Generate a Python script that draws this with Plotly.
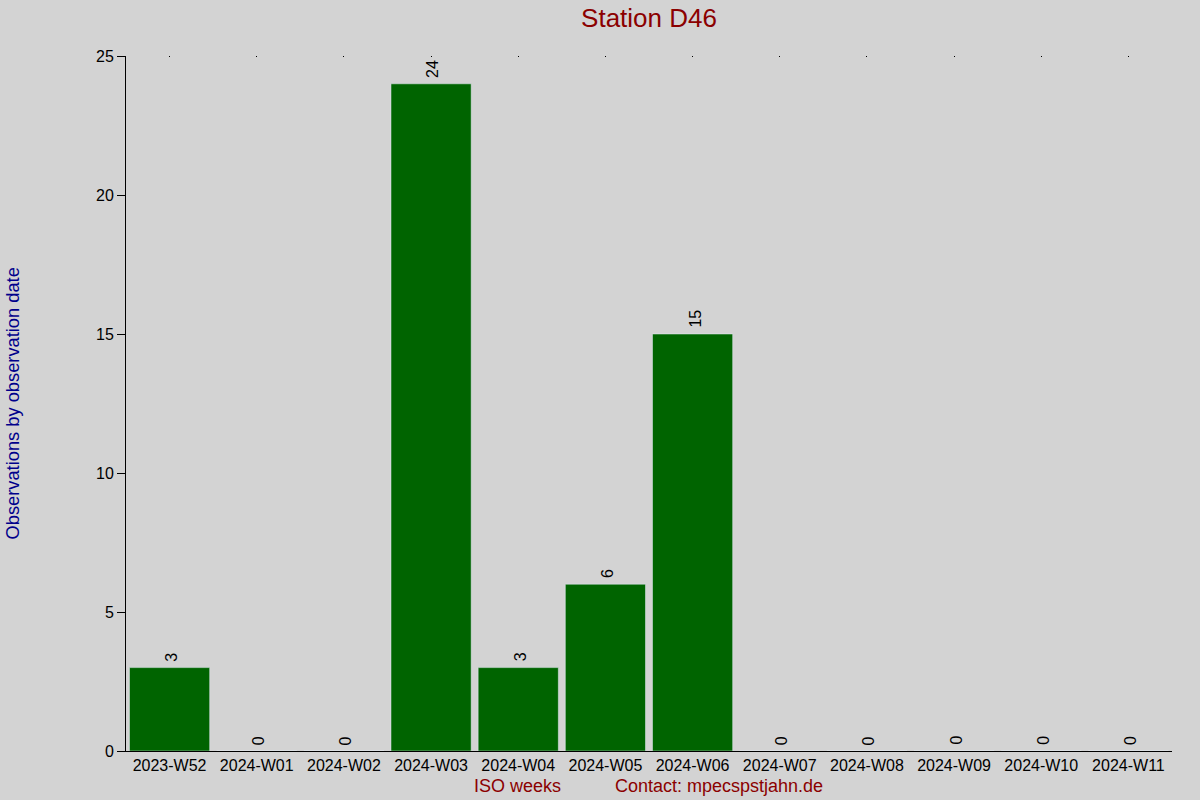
import plotly.graph_objects as go

weeks = ["2023-W52", "2024-W01", "2024-W02", "2024-W03", "2024-W04", "2024-W05",
         "2024-W06", "2024-W07", "2024-W08", "2024-W09", "2024-W10", "2024-W11"]
counts = [3, 0, 0, 24, 3, 6, 15, 0, 0, 0, 0, 0]
y_ticks = [0, 5, 10, 15, 20, 25]

FONT = "Liberation Sans, Arial, sans-serif"
BG = "#D3D3D3"
BAR = "#006400"
DARKRED = "#8B0000"
NAVY = "#00008B"

fig = go.Figure()
fig.add_trace(go.Bar(
    x=weeks, y=counts,
    marker=dict(color=BAR, line=dict(width=0)),
    width=0.92,
    showlegend=False,
    hoverinfo="x+y",
))
# invisible trace to carry the small top ticks
fig.add_trace(go.Bar(
    x=weeks, y=counts, xaxis="x2",
    marker=dict(color="rgba(0,0,0,0)"),
    showlegend=False, hoverinfo="skip",
))

bar_labels = [
    dict(x=w, y=c, xref="x", yref="y", text=str(c), textangle=-90,
         showarrow=False, xanchor="center", yanchor="bottom", yshift=4, xshift=2,
         font=dict(family=FONT, size=16, color="black"))
    for w, c in zip(weeks, counts)
]

fig.update_layout(
    width=1200, height=800,
    paper_bgcolor=BG, plot_bgcolor=BG,
    margin=dict(l=126, r=28, t=56, b=49),
    font=dict(family=FONT, size=16, color="black"),
    title=dict(text="Station D46", x=0.5, xref="paper", y=1 - 18 / 800,
               yref="container", yanchor="middle", xanchor="center",
               font=dict(family=FONT, size=26, color=DARKRED)),
    bargap=0.08,
    xaxis=dict(
        type="category", categoryorder="array", categoryarray=weeks,
        showline=True, linecolor="black", linewidth=1,
        ticks="", showgrid=False, zeroline=False,
        tickfont=dict(family=FONT, size=16, color="black"),
        fixedrange=True,
    ),
    xaxis2=dict(
        type="category", categoryorder="array", categoryarray=weeks,
        overlaying="x", side="top", matches="x",
        showline=False, showgrid=False, zeroline=False,
        showticklabels=False, ticks="inside", ticklen=1, tickwidth=1,
        tickcolor="black",
    ),
    yaxis=dict(
        range=[0, 25], tickvals=y_ticks,
        showline=True, linecolor="black", linewidth=1,
        ticks="outside", ticklen=8, tickwidth=1, tickcolor="black",
        showgrid=False, zeroline=False,
        tickfont=dict(family=FONT, size=16, color="black"),
        fixedrange=True,
    ),
    annotations=bar_labels + [
        dict(text="Observations by observation date", xref="paper", yref="paper",
             x=(12 - 126) / 1046, y=0.5, textangle=-90, showarrow=False,
             xanchor="center", yanchor="middle",
             font=dict(family=FONT, size=18.3, color=NAVY)),
        dict(text="ISO weeks", xref="paper", yref="paper",
             x=(517 - 126) / 1046, y=-(786 - 751) / 695, showarrow=False,
             xanchor="center", yanchor="middle",
             font=dict(family=FONT, size=18, color=DARKRED)),
        dict(text="Contact: mpecspstjahn.de", xref="paper", yref="paper",
             x=(719 - 126) / 1046, y=-(786 - 751) / 695, showarrow=False,
             xanchor="center", yanchor="middle",
             font=dict(family=FONT, size=18, color=DARKRED)),
    ],
)

fig.write_html(
    "out.html",
    config={"displayModeBar": False},
    post_script="document.body.style.margin='0';document.body.style.padding='0';"
                "document.documentElement.style.overflow='hidden';",
)
